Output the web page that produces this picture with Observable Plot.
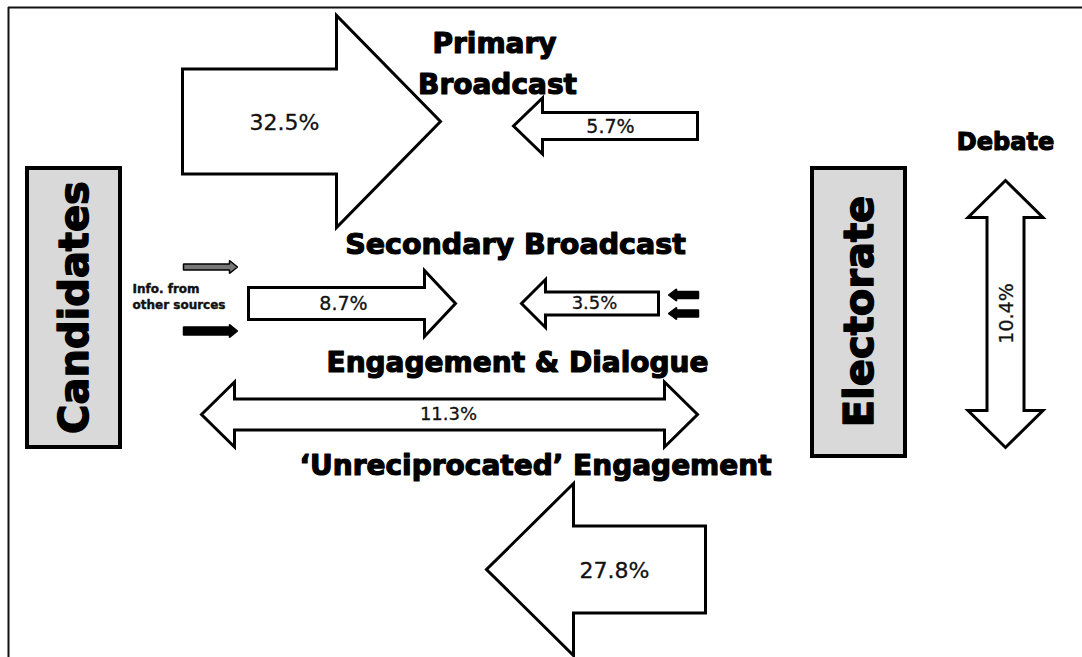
<!DOCTYPE html>
<html>
<head>
<meta charset="utf-8">
<script src="https://cdn.jsdelivr.net/npm/d3@7"></script>
<script src="https://cdn.jsdelivr.net/npm/@observablehq/plot@0.6"></script>
<style>
  html, body { margin: 0; padding: 0; background: #fff; }
  svg { display: block; }
</style>
</head>
<body>
<script>
// ---------- DATA ----------
const flows = ["Primary Broadcast (out)", "Primary Broadcast (in)", "Secondary Broadcast (out)",
               "Secondary Broadcast (in)", "Engagement & Dialogue", "‘Unreciprocated’ Engagement", "Debate"];
const shares = [32.5, 5.7, 8.7, 3.5, 11.3, 27.8, 10.4];
const actors = ["Candidates", "Electorate"];
const headings = ["Primary", "Broadcast", "Secondary Broadcast", "Engagement & Dialogue",
                  "‘Unreciprocated’ Engagement", "Debate"];
const sourceNote = ["Info. from", "other sources"];

// ---------- LAYOUT (positions / sizes, kept apart from the data) ----------
const W = 1082, H = 657;
const arrowGeom = [
  {tail: 182, tip: 440, c: 121,   shaft: 52.5, head: 106,  headLen: 104, dir: "h"},
  {tail: 697, tip: 513, c: 125.5, shaft: 13.5, head: 28,   headLen: 29,  dir: "h"},
  {tail: 248, tip: 455, c: 303,   shaft: 16,   head: 33,   headLen: 31,  dir: "h"},
  {tail: 658, tip: 521, c: 303,   shaft: 11.5, head: 24,   headLen: 24,  dir: "h"},
  {tail: 201, tip: 697, c: 414,   shaft: 15.5, head: 32.5, headLen: 33,  dir: "h", both: true},
  {tail: 705, tip: 486, c: 569,   shaft: 43.5, head: 86,   headLen: 87,  dir: "h"},
  {tail: 180, tip: 447, c: 1005,  shaft: 18.5, head: 37.5, headLen: 37,  dir: "v", both: true}
];
const shareLabelPos = [[284, 122], [610, 126], [343, 303], [594, 303], [448, 414], [614, 570], [1006, 313]];
const shareFont = [22, 19, 19, 18, 18, 22, 19];
const smallArrowGeom = [
  {tail: 183, tip: 237, c: 266.5, shaft: 3,   head: 6.5, headLen: 8, fill: "#777"},
  {tail: 183, tip: 237, c: 330.5, shaft: 4,   head: 6.5, headLen: 8, fill: "#000"},
  {tail: 698, tip: 668, c: 294.5, shaft: 3.5, head: 6,   headLen: 8, fill: "#000"},
  {tail: 698, tip: 668, c: 313,   shaft: 3.5, head: 6,   headLen: 8, fill: "#000"}
];
const actorBox = [{x1: 27, x2: 120, y1: 168, y2: 447}, {x1: 812, x2: 905, y1: 168, y2: 456}];
const actorText = [[75, 307], [860, 311]];
const headingPos = [[494, 44], [497, 85], [515, 244], [517, 363], [535, 466], [1005, 142]];
const headingSize = [28, 28, 28.5, 28, 28, 24];
const notePos = [[132, 289], [132, 305]];

// ---------- GEOMETRY BUILDERS ----------
function arrowPoints(id, g) {
  const d = Math.sign(g.tip - g.tail);
  const base = g.tip - d * g.headLen;
  const c = g.c, s = g.shaft, h = g.head;
  let pts;
  if (g.both) {
    const base0 = g.tail + d * g.headLen;
    pts = [[g.tail, c], [base0, c - h], [base0, c - s], [base, c - s], [base, c - h], [g.tip, c],
           [base, c + h], [base, c + s], [base0, c + s], [base0, c + h]];
  } else {
    pts = [[g.tail, c - s], [base, c - s], [base, c - h], [g.tip, c],
           [base, c + h], [base, c + s], [g.tail, c + s]];
  }
  return pts.map(([a, b]) => g.dir === "v" ? {id, x: b, y: a} : {id, x: a, y: b});
}

const bigArrows = flows.flatMap((f, i) => arrowPoints(f, arrowGeom[i]));
const shareLabels = shares.map((v, i) => ({
  label: v.toFixed(1) + "%", x: shareLabelPos[i][0], y: shareLabelPos[i][1],
  size: shareFont[i], rotate: arrowGeom[i].dir === "v" ? -90 : 0
}));
const smallArrows = smallArrowGeom.map((g, i) => ({g, pts: arrowPoints("s" + i, {...g, dir: "h"})}));
const actorsData = actors.map((a, i) => ({name: a, ...actorBox[i], tx: actorText[i][0], ty: actorText[i][1]}));
const headingData = headings.map((t, i) => ({t, x: headingPos[i][0], y: headingPos[i][1], size: headingSize[i]}));
const noteData = sourceNote.map((t, i) => ({t, x: notePos[i][0], y: notePos[i][1]}));

const heavy = "DejaVu Sans, Liberation Sans, sans-serif";

const marks = [
  // frame
  Plot.ruleY([7], {y: d => d, x1: 8, x2: W, stroke: "#111", strokeWidth: 2}),
  Plot.ruleX([8], {x: d => d, y1: 7, y2: H, stroke: "#111", strokeWidth: 2}),
  // actor boxes
  Plot.rect(actorsData, {x1: "x1", x2: "x2", y1: "y1", y2: "y2", fill: "#d9d9d9", stroke: "#000", strokeWidth: 4}),
  Plot.text(actorsData, {x: "tx", y: "ty", text: "name", rotate: -90, fontSize: 40, fontWeight: "bold",
    fontFamily: heavy, fill: "#000", stroke: "#000", strokeWidth: 1.4, textAnchor: "middle", lineAnchor: "middle"}),
  // big arrows
  Plot.line(bigArrows, {x: "x", y: "y", z: "id", curve: "linear-closed", fill: "#fff", stroke: "#000",
    strokeWidth: 3, strokeLinejoin: "miter", strokeMiterlimit: 10}),
];
for (const s of smallArrows) {
  marks.push(Plot.line(s.pts, {x: "x", y: "y", curve: "linear-closed", fill: s.g.fill, stroke: "#000",
    strokeWidth: 1.5, strokeLinejoin: "miter"}));
}
marks.push(
  Plot.text(shareLabels, {x: "x", y: "y", text: "label", rotate: "rotate", fontSize: d => d.size,
    fontFamily: "DejaVu Sans, sans-serif", fill: "#111", stroke: "#111", strokeWidth: 0.3,
    textAnchor: "middle", lineAnchor: "middle"}),
  Plot.text(headingData, {x: "x", y: "y", text: "t", fontSize: d => d.size, fontWeight: "bold",
    fontFamily: heavy, fill: "#000", stroke: "#000", strokeWidth: 1.2, textAnchor: "middle", lineAnchor: "middle"}),
  Plot.text(noteData, {x: "x", y: "y", text: "t", fontSize: 12, fontWeight: "bold",
    fontFamily: heavy, fill: "#111", stroke: "#111", strokeWidth: 0.4, textAnchor: "start", lineAnchor: "middle"})
);

const chart = Plot.plot({
  width: W, height: H,
  margin: 0,
  x: {domain: [0, W], range: [0, W], axis: null},
  y: {domain: [0, H], range: [0, H], axis: null},
  style: {background: "#fff", overflow: "visible"},
  marks
});
document.body.appendChild(chart);
</script>
</body>
</html>
